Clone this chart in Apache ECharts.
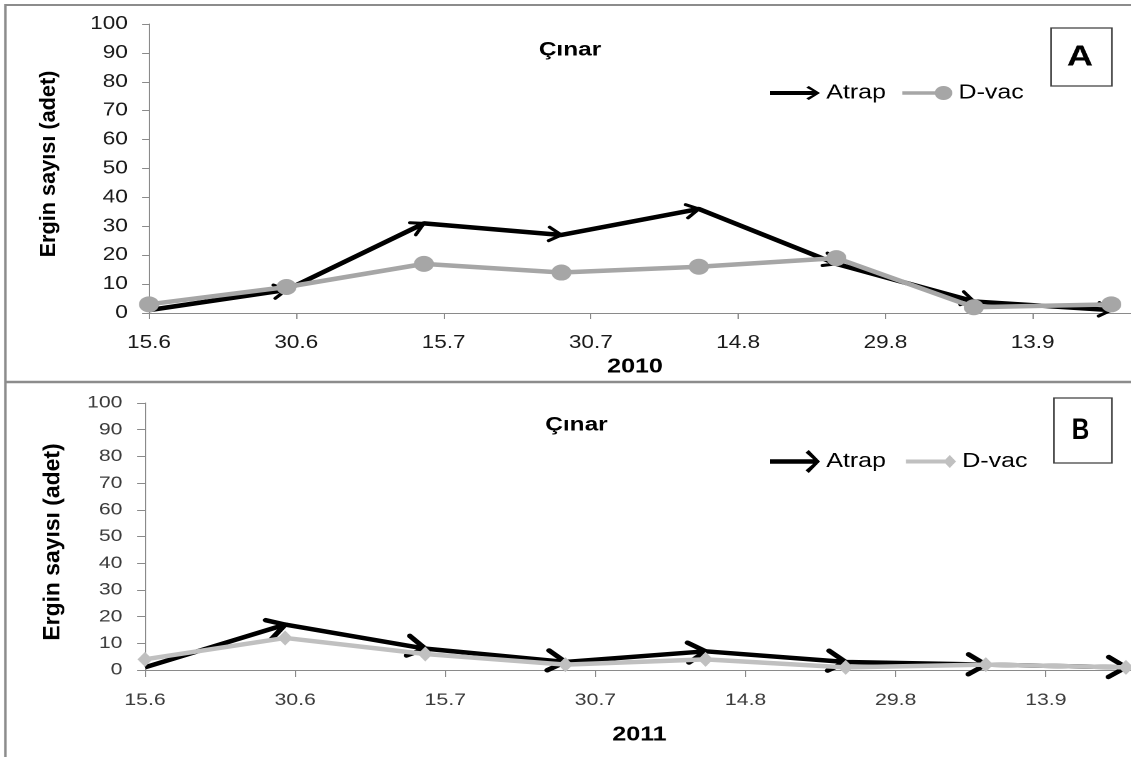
<!DOCTYPE html>
<html>
<head>
<meta charset="utf-8">
<script src="https://cdn.jsdelivr.net/npm/echarts@6/dist/echarts.min.js"></script>
<style>
  html, body { margin: 0; padding: 0; background: #fff; overflow: hidden; width: 1131px; height: 757px; }
  /* the chart box is laid out narrow and widened horizontally */
  #chart { width: 905px; height: 757px; transform: scaleX(1.25); transform-origin: 0 0; }
</style>
</head>
<body>
<div id="chart"></div>
<script>
// Sampling dates, in days after 15 June
const sampleDays = [0, 14, 28, 42, 56, 70, 84, 98];
// Date labels every 15 days, starting on 15 June
const tickLabels = ['15.6', '30.6', '15.7', '30.7', '14.8', '29.8', '13.9'];
const yearLabels = ['2010', '2011'];
const panelLetters = ['A', 'B'];
const plantName = 'Çınar';
const yTitle = 'Ergin sayısı (adet)';

// Adult counts, 2010
const atrap2010 = [1, 8, 31, 27, 36, 17, 4, 1];
const dvac2010 = [3, 9, 17, 14, 16, 19, 2, 3];
// Adult counts, 2011
const atrap2011 = [1, 17, 8, 3, 7, 3, 2, 1];
const dvac2011 = [4, 12, 6, 2, 4, 1, 2, 1];

const SX = 1.25;           // horizontal widening of the chart box
const FONT = '"Liberation Sans", Arial, sans-serif';
const AXIS = '#8a8a8a';
const GRAY_A = '#a6a6a6';
const GRAY_B = '#c0c0c0';

function points(values) {
  return sampleDays.map((d, i) => [d, values[i]]);
}
function segments(values) {
  return values.slice(1).map((v, i) => [sampleDays[i], values[i], sampleDays[i + 1], v]);
}

// Open arrow head at the end of every segment of a line
function arrowHeads(len, halfAngle, width) {
  return function (params, api) {
    const p0 = api.coord([api.value(0), api.value(1)]);
    const p1 = api.coord([api.value(2), api.value(3)]);
    const a = Math.atan2(p1[1] - p0[1], (p1[0] - p0[0]) * SX);
    const arm = s => [
      p1[0] - len * Math.cos(a + s * halfAngle) / SX,
      p1[1] - len * Math.sin(a + s * halfAngle)
    ];
    return {
      type: 'polyline',
      shape: { points: [arm(-1), p1, arm(1)] },
      style: { stroke: '#000', lineWidth: width, fill: null, lineJoin: 'miter', lineCap: 'round' }
    };
  };
}

function xAxisFor(gridIndex, color, fontSize, margin, tickLen) {
  return {
    type: 'value', gridIndex, min: 0, max: 105, interval: 15,
    axisLine: { show: true, onZero: false, lineStyle: { color: AXIS, width: 1 } },
    axisTick: { show: true, length: tickLen, lineStyle: { color: AXIS, width: 1 } },
    splitLine: { show: false },
    axisLabel: {
      fontFamily: FONT, fontSize, color, margin,
      formatter: v => tickLabels[Math.round(v / 15)] || ''
    }
  };
}
function yAxisFor(gridIndex, color, fontSize, margin, tickLen) {
  return {
    type: 'value', gridIndex, min: 0, max: 100, interval: 10,
    axisLine: { show: true, lineStyle: { color: AXIS, width: 1 } },
    axisTick: { show: true, length: tickLen, lineStyle: { color: AXIS, width: 1 } },
    splitLine: { show: false },
    axisLabel: { fontFamily: FONT, fontSize, color, margin }
  };
}

// Legend keys
const ICON_ARROW_A = 'path://M0,5 L34,5 L29,1.6 L31,0 L40,7 L31,14 L29,12.4 L34,9 L0,9 Z';
const ICON_DOT_A = 'path://M0,5.2 L33,5.2 L33,8.8 L0,8.8 Z M26,7 A7,7 0 1 1 40,7 A7,7 0 1 1 26,7 Z';
const ICON_ARROW_B = 'path://M0,9.2 L34.5,9.2 L28.4,2.6 L31,0 L40,11.5 L31,23 L28.4,20.4 L34.5,13.8 L0,13.8 Z';
const ICON_DIAMOND_B = 'path://M0,0 M40,23 M0,9.5 L31.5,9.5 L35,5 L40,11.5 L35,18 L31.5,13.5 L0,13.5 Z';

function label(text, x, y, size, extra) {
  return Object.assign({
    type: 'text', x, y, z: 10,
    style: {
      text, fontFamily: FONT, fontSize: size, fontWeight: 'bold', fill: '#000',
      align: 'center', verticalAlign: 'middle'
    }
  }, extra || {});
}

const chart = echarts.init(document.getElementById('chart'), null, { renderer: 'canvas', devicePixelRatio: 2 });

chart.setOption({
  animation: false,
  backgroundColor: '#fff',
  grid: [
    { left: 119.2, top: 24, width: 824.8, height: 289, outerBoundsMode: 'none', containLabel: false },
    { left: 116, top: 403, width: 840.8, height: 267, outerBoundsMode: 'none', containLabel: false }
  ],
  xAxis: [
    xAxisFor(0, '#1a1a1a', 18, 21, 6),
    xAxisFor(1, '#3c3c3c', 17, 22, 7)
  ],
  yAxis: [
    yAxisFor(0, '#1a1a1a', 18, 17, 5.6),
    yAxisFor(1, '#3c3c3c', 17, 18, 6.4)
  ],
  legend: [
    {
      left: 616, top: 83, padding: 0, itemWidth: 40, itemHeight: 14, itemGap: 13,
      selectedMode: false,
      textStyle: { fontFamily: FONT, fontSize: 20, color: '#000' },
      itemStyle: { borderWidth: 0 },
      data: [
        { name: 'Atrap', icon: ICON_ARROW_A, itemStyle: { color: '#000', borderWidth: 0 } },
        { name: 'D-vac', icon: ICON_DOT_A, itemStyle: { color: GRAY_A, borderWidth: 0 } }
      ]
    },
    {
      left: 616, top: 450, padding: 0, itemWidth: 40, itemHeight: 23, itemGap: 16,
      selectedMode: false,
      textStyle: { fontFamily: FONT, fontSize: 20, color: '#000' },
      itemStyle: { borderWidth: 0 },
      data: [
        { name: 'Atrap', icon: ICON_ARROW_B, itemStyle: { color: '#000', borderWidth: 0 } },
        { name: 'D-vac', icon: ICON_DIAMOND_B, itemStyle: { color: GRAY_B, borderWidth: 0 } }
      ]
    }
  ],
  series: [
    {
      type: 'line', name: 'Atrap', xAxisIndex: 0, yAxisIndex: 0,
      data: points(atrap2010), symbol: 'none',
      lineStyle: { color: '#000', width: 4.5 }, itemStyle: { color: '#000' }, z: 2
    },
    {
      type: 'custom', name: 'Atrap uçları', xAxisIndex: 0, yAxisIndex: 0,
      data: segments(atrap2010), encode: { x: [0, 2], y: [1, 3] },
      renderItem: arrowHeads(14, 0.5, 3), z: 3
    },
    {
      type: 'line', name: 'D-vac', xAxisIndex: 0, yAxisIndex: 0,
      data: points(dvac2010), symbol: 'circle', symbolSize: 16,
      lineStyle: { color: GRAY_A, width: 4.5 }, itemStyle: { color: GRAY_A, borderWidth: 0 }, z: 4
    },
    {
      type: 'line', name: 'Atrap', xAxisIndex: 1, yAxisIndex: 1,
      data: points(atrap2011), symbol: 'none',
      lineStyle: { color: '#000', width: 4.5 }, itemStyle: { color: '#000' }, z: 2
    },
    {
      type: 'custom', name: 'Atrap uçları 2011', xAxisIndex: 1, yAxisIndex: 1,
      data: segments(atrap2011), encode: { x: [0, 2], y: [1, 3] },
      renderItem: arrowHeads(20, 0.52, 4.5), z: 3
    },
    {
      type: 'line', name: 'D-vac', xAxisIndex: 1, yAxisIndex: 1,
      data: points(dvac2011), symbol: 'diamond', symbolSize: [12, 15],
      lineStyle: { color: GRAY_B, width: 4.5 }, itemStyle: { color: GRAY_B, borderWidth: 0 }, z: 4
    }
  ],
  graphic: [
    // panel frames
    { type: 'line', shape: { x1: 4.3, y1: 5, x2: 905, y2: 5 }, style: { stroke: '#8c8c8c', lineWidth: 2 } },
    { type: 'line', shape: { x1: 4.3, y1: 4, x2: 4.3, y2: 757 }, style: { stroke: '#8c8c8c', lineWidth: 2 } },
    { type: 'line', shape: { x1: 4.3, y1: 382, x2: 905, y2: 382 }, style: { stroke: '#8c8c8c', lineWidth: 2.5 } },
    // panel letter boxes
    { type: 'rect', shape: { x: 840.8, y: 28, width: 48.8, height: 58 }, style: { stroke: '#404040', lineWidth: 1.3, fill: '#fff' } },
    label(panelLetters[0], 864, 57.5, 29),
    { type: 'rect', shape: { x: 843.2, y: 398, width: 46.4, height: 65 }, style: { stroke: '#404040', lineWidth: 1.3, fill: '#fff' } },
    label(panelLetters[1], 864.4, 430.5, 30, { scaleX: 0.65 }),
    // titles
    label(plantName, 456, 50, 19.5),
    label(plantName, 461.2, 425, 19.5),
    label(yearLabels[0], 508, 367, 20),
    label(yearLabels[1], 511.6, 735, 20),
    label(yTitle, 39.2, 164, 21.7, { rotation: Math.PI / 2, scaleY: 0.8 }),
    label(yTitle, 42.5, 542, 22.9, { rotation: Math.PI / 2, scaleY: 0.8 })
  ]
});
</script>
</body>
</html>
